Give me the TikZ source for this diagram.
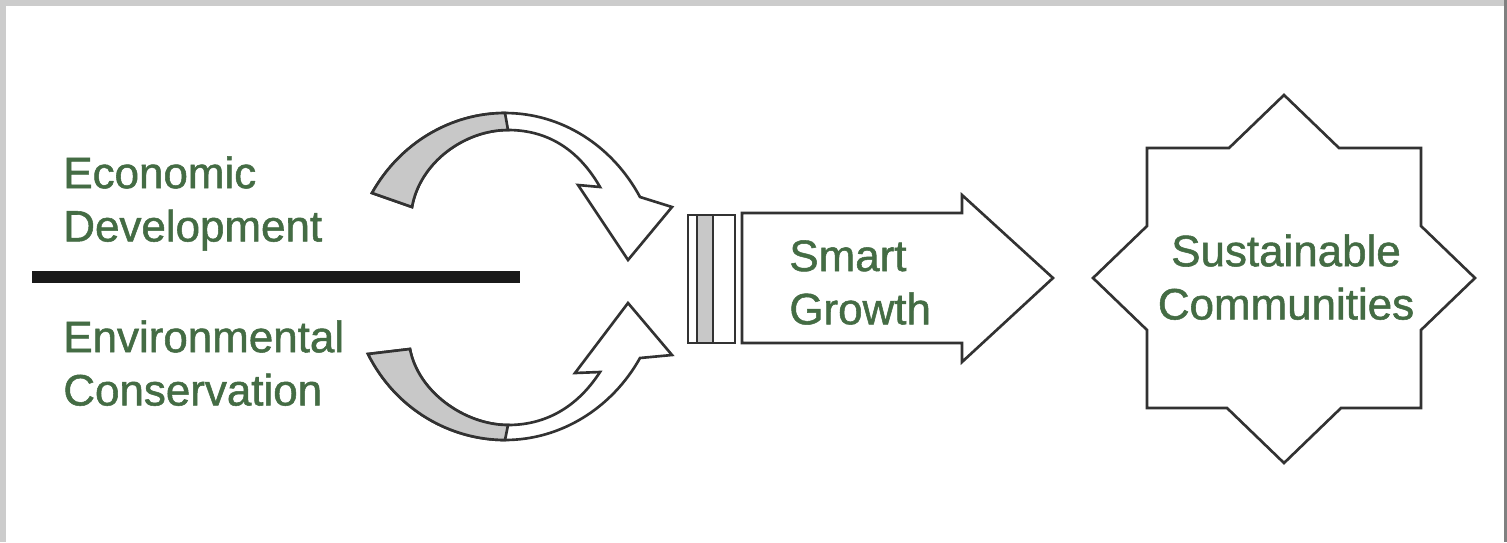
\documentclass[tikz,border=0pt]{standalone}
\usepackage{fontspec}
\setmainfont{Liberation Sans}
\newfontfamily\heavyfont[BoldFont={Liberation Sans}, BoldFeatures={FakeBold=1.2}]{Liberation Sans}
\definecolor{txtgreen}{RGB}{68,108,68}
\definecolor{edge}{RGB}{50,50,50}
\definecolor{ribbon}{RGB}{200,200,200}
\begin{document}
\begin{tikzpicture}[x=0.02cm,y=-0.02cm,
  lbl/.style={font=\heavyfont\bfseries\fontsize{25}{30.3}\selectfont, text=txtgreen, inner sep=0pt},
  outl/.style={draw=edge, line width=1.5pt, line join=miter}]
\useasboundingbox (0,0) rectangle (1507,542);
\fill[white] (0,0) rectangle (1507,542);
% frame
\fill[black!20] (0,0) rectangle (1507,6);
\fill[black!20] (0,0) rectangle (6,542);
\fill[black!50] (1504,0) rectangle (1507,542);

% left labels and separator
\node[lbl, anchor=north west, align=left] (econ) at (63,156) {Economic\\Development};
\node[lbl, anchor=north west, align=left] (env) at (63,320) {Environmental\\Conservation};
\draw[black!90, line width=0.24cm] (32,277) -- (520,277);

% upper curved arrow
\filldraw[outl, fill=white]
  (372,193) .. controls (400,143) and (451,113) .. (505,113)
  .. controls (561,113) and (612,145) .. (640,197)
  -- (672,207) -- (628,260) -- (578,185) -- (600,187)
  .. controls (580,152) and (550,130) .. (508,130)
  .. controls (465,130) and (420,162) .. (412,207) -- cycle;
\filldraw[outl, fill=ribbon]
  (372,193) .. controls (400,143) and (451,113) .. (505,113)
  -- (508,130)
  .. controls (465,130) and (420,162) .. (412,207) -- cycle;

% lower curved arrow
\filldraw[outl, fill=white]
  (368,354) .. controls (396,410) and (451,440) .. (505,440)
  .. controls (561,440) and (612,408) .. (640,358)
  -- (672,355) -- (628,303) -- (575,373) -- (600,372)
  .. controls (580,403) and (550,425) .. (508,425)
  .. controls (465,425) and (418,392) .. (410,349) -- cycle;
\filldraw[outl, fill=ribbon]
  (368,354) .. controls (396,410) and (451,440) .. (505,440)
  -- (508,425)
  .. controls (465,425) and (418,392) .. (410,349) -- cycle;

% double bar
\filldraw[outl, fill=ribbon] (697,215) rectangle (713,343);
\draw[outl] (688,215) rectangle (735,343);
% smart growth arrow
\filldraw[outl, fill=white] (742,213) -- (962,213) -- (962,195) -- (1053,278)
  -- (962,362) -- (962,343) -- (742,343) -- cycle;
\node[lbl, anchor=north west, align=left] (smart) at (789,240) {Smart\\Growth};

% star
\filldraw[outl, fill=white] (1284,95) -- (1339,148) -- (1421,148) -- (1421,226)
  -- (1475,278) -- (1421,330) -- (1421,408) -- (1341,408) -- (1284,463)
  -- (1227,408) -- (1147,408) -- (1147,330) -- (1093,278) -- (1147,226)
  -- (1147,148) -- (1229,148) -- cycle;
\node[lbl, anchor=north, align=center] (sust) at (1286,234) {Sustainable\\Communities};
\end{tikzpicture}
\end{document}
